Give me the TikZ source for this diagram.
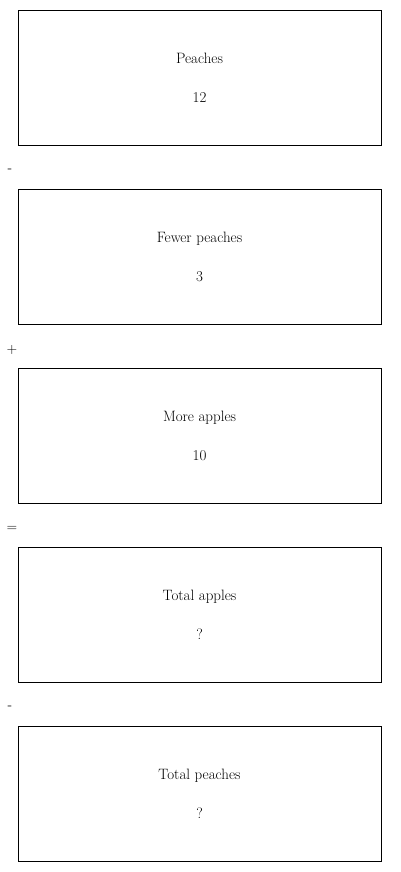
\documentclass[tikz,border=0pt]{standalone}
\usetikzlibrary{positioning}
\begin{document}
\begin{tikzpicture}[x=1pt,y=-1pt,
    qbox/.style={draw, line width=0.9pt, outer sep=0pt, minimum width=363pt, minimum height=135pt,
        align=center, font=\fontsize{15}{39}\selectfont},
    opsign/.style={font=\fontsize{14}{14}\selectfont, inner sep=0pt}]
\useasboundingbox (0,0) rectangle (400,872);

    \node[qbox] (peaches) at (199.5,77.5) {Peaches\\12};
    \node[qbox, below=44pt of peaches] (fewer) {Fewer peaches\\3};
    \node[qbox, below=44pt of fewer] (moreapples) {More apples\\10};
    \node[qbox, below=44pt of moreapples] (totalapples) {Total apples\\?};
    \node[qbox, below=44pt of totalapples] (totalpeaches) {Total peaches\\?};

    % signs between the boxes
    \node[opsign] (minusA) at (10,171) {-};
    \node[opsign] (plusA) at (12,350) {+};
    \node[opsign] (equalA) at (12,529) {=};
    \node[opsign] (minusB) at (10,708) {-};

\end{tikzpicture}
\end{document}
